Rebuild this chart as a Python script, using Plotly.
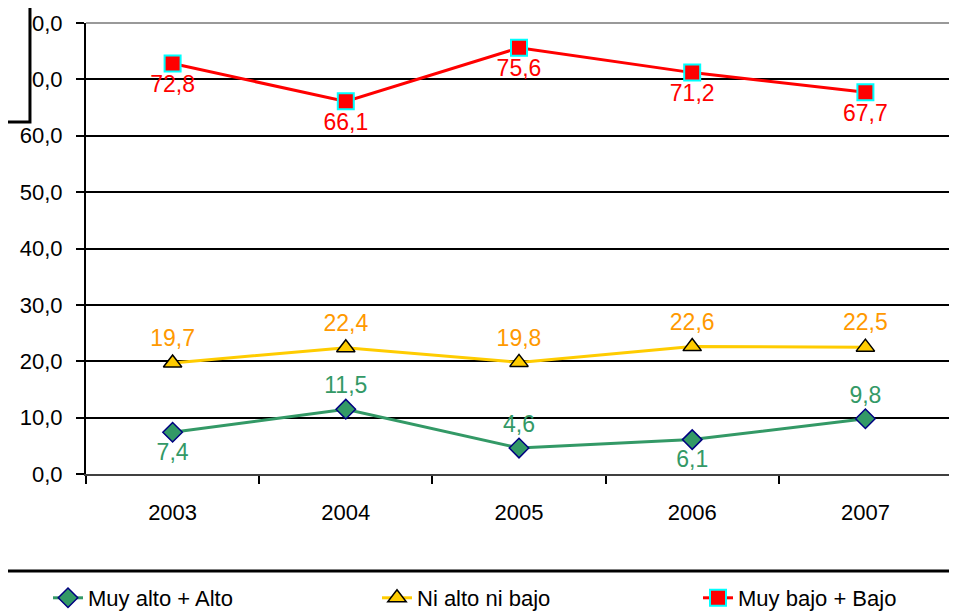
import plotly.graph_objects as go

years = ["2003", "2004", "2005", "2006", "2007"]

muy_alto_alto = [7.4, 11.5, 4.6, 6.1, 9.8]
ni_alto_ni_bajo = [19.7, 22.4, 19.8, 22.6, 22.5]
muy_bajo_bajo = [72.8, 66.1, 75.6, 71.2, 67.7]

y_ticks = [0, 10, 20, 30, 40, 50, 60, 70, 80]
y_tick_labels = ["0,0", "10,0", "20,0", "30,0", "40,0", "50,0", "60,0", "70,0", "80,0"]

green_pos = ["bottom center", "top center", "top center", "bottom center", "top center"]


def fmt(values):
    return [f"{v:.1f}".replace(".", ",") for v in values]


FONT = "Liberation Sans, Arial, sans-serif"

# the page body adds 8px around the figure, so the figure is 8px smaller
W, H = 949, 603

fig = go.Figure()

fig.add_trace(
    go.Scatter(
        x=years,
        y=muy_alto_alto,
        mode="lines+markers+text",
        name="Muy alto + Alto",
        legend="legend",
        line=dict(color="#339966", width=3),
        marker=dict(symbol="diamond", size=15, color="#339966",
                    line=dict(color="#000080", width=1.5)),
        text=fmt(muy_alto_alto),
        textposition=green_pos,
        textfont=dict(color="#339966", size=23, family=FONT),
    )
)

fig.add_trace(
    go.Scatter(
        x=years,
        y=ni_alto_ni_bajo,
        mode="lines+markers+text",
        name="Ni alto ni bajo",
        legend="legend2",
        line=dict(color="#FFCC00", width=3),
        marker=dict(symbol="triangle-up", size=16, color="#FFCC00",
                    line=dict(color="#000000", width=1.5)),
        text=fmt(ni_alto_ni_bajo),
        textposition="top center",
        textfont=dict(color="#FF9900", size=23, family=FONT),
    )
)

fig.add_trace(
    go.Scatter(
        x=years,
        y=muy_bajo_bajo,
        mode="lines+markers+text",
        name="Muy bajo + Bajo",
        legend="legend3",
        line=dict(color="#FF0000", width=3),
        marker=dict(symbol="square", size=16, color="#FF0000",
                    line=dict(color="#00FFFF", width=2)),
        text=fmt(muy_bajo_bajo),
        textposition="bottom center",
        textfont=dict(color="#FF0000", size=23, family=FONT),
    )
)


def legend_at(x_px):
    return dict(
        x=x_px / W, xref="container",
        y=(H - 590) / H, yref="container",
        xanchor="left", yanchor="middle",
        font=dict(size=22, family=FONT),
        bgcolor="rgba(0,0,0,0)",
    )


fig.update_layout(
    width=W,
    height=H,
    margin=dict(l=78, r=5, t=15, b=137, autoexpand=False),
    paper_bgcolor="white",
    plot_bgcolor="white",
    font=dict(family=FONT, size=22, color="black"),
    showlegend=True,
    legend=legend_at(40),
    legend2=legend_at(369),
    legend3=legend_at(690),
)

fig.update_xaxes(
    type="category",
    range=[-0.5, 4.5],
    automargin=False,
    tickson="boundaries",
    ticks="outside",
    ticklen=8,
    tickwidth=2,
    tickcolor="black",
    ticklabelstandoff=18,
    tickangle=0,
    showline=True,
    linecolor="#404040",
    linewidth=2,
    showgrid=False,
    tickfont=dict(size=22, family=FONT),
)

fig.update_yaxes(
    range=[0, 80],
    automargin=False,
    tickvals=y_ticks,
    ticktext=y_tick_labels,
    ticks="outside",
    ticklen=8,
    tickwidth=2,
    tickcolor="black",
    ticklabelstandoff=9,
    showline=True,
    linecolor="black",
    linewidth=2,
    showgrid=True,
    gridcolor="black",
    gridwidth=2,
    zeroline=False,
    tickfont=dict(size=22, family=FONT),
)

# grey frame at top and right of the plot area
fig.add_shape(type="line", xref="paper", yref="paper", x0=0, x1=1, y0=1, y1=1,
              line=dict(color="#999999", width=2), layer="above")
fig.add_shape(type="line", xref="paper", yref="paper", x0=1, x1=1, y0=0, y1=1,
              line=dict(color="#999999", width=2), layer="above")

# separator line above the legend
fig.add_shape(type="line", xref="paper", yref="paper", x0=-0.2, x1=1.05, y0=-0.215, y1=-0.215,
              line=dict(color="black", width=3))

# box covering the top-left corner
fig.add_shape(type="rect", xref="paper", yref="paper", x0=-0.15, x1=-0.0647, y0=0.7805, y1=1.1,
              fillcolor="white", line=dict(color="black", width=3), layer="above")

fig.write_html("out.html")
